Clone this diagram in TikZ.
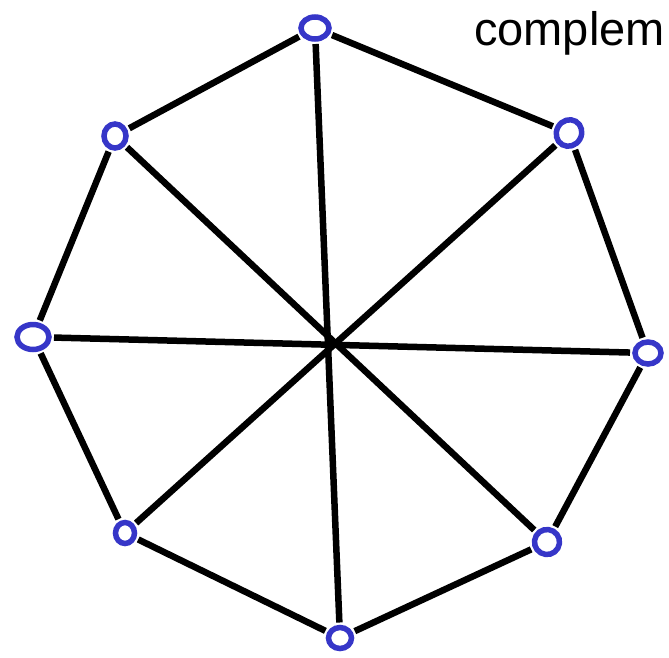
\documentclass[tikz,border=0pt]{standalone}
\usepackage{fontspec}
\setmainfont{Liberation Sans}
\usetikzlibrary{shapes.geometric}
\definecolor{penblue}{RGB}{54,54,200}
\tikzset{
  vtx/.style={ellipse, draw=penblue, line width=5.5pt, inner sep=0pt, outer sep=5pt},
  edge/.style={draw=black, line width=6.5pt},
}
\begin{document}
\begin{tikzpicture}[x=1pt,y=-1pt]
\useasboundingbox (0,0) rectangle (669,657);
\node[vtx, minimum width=28pt, minimum height=22pt] (T)  at (315,28) {};
\node[vtx, minimum width=25pt, minimum height=27pt, rotate=-30] (UR) at (569,133) {};
\node[vtx, minimum width=26pt, minimum height=22pt] (R)  at (648,353) {};
\node[vtx, minimum width=25pt, minimum height=25pt, rotate=-30] (LR) at (547,542) {};
\node[vtx, minimum width=23pt, minimum height=21pt] (B)  at (340,638) {};
\node[vtx, minimum width=19pt, minimum height=21pt] (LL) at (125,533) {};
\node[vtx, minimum width=32pt, minimum height=25pt] (L)  at (33,337) {};
\node[vtx, minimum width=22pt, minimum height=24pt] (UL) at (115,136) {};
\draw[edge] (T) -- (UR) -- (R) -- (LR) -- (B) -- (LL) -- (L) -- (UL) -- (T);
\draw[edge] (T) -- (B);
\draw[edge] (UR) -- (LL);
\draw[edge] (R) -- (L);
\draw[edge] (LR) -- (UL);
\node[anchor=base west, inner sep=0pt, font=\fontsize{47}{47}\selectfont] (txt) at (474,45) {complem};
\end{tikzpicture}
\end{document}
